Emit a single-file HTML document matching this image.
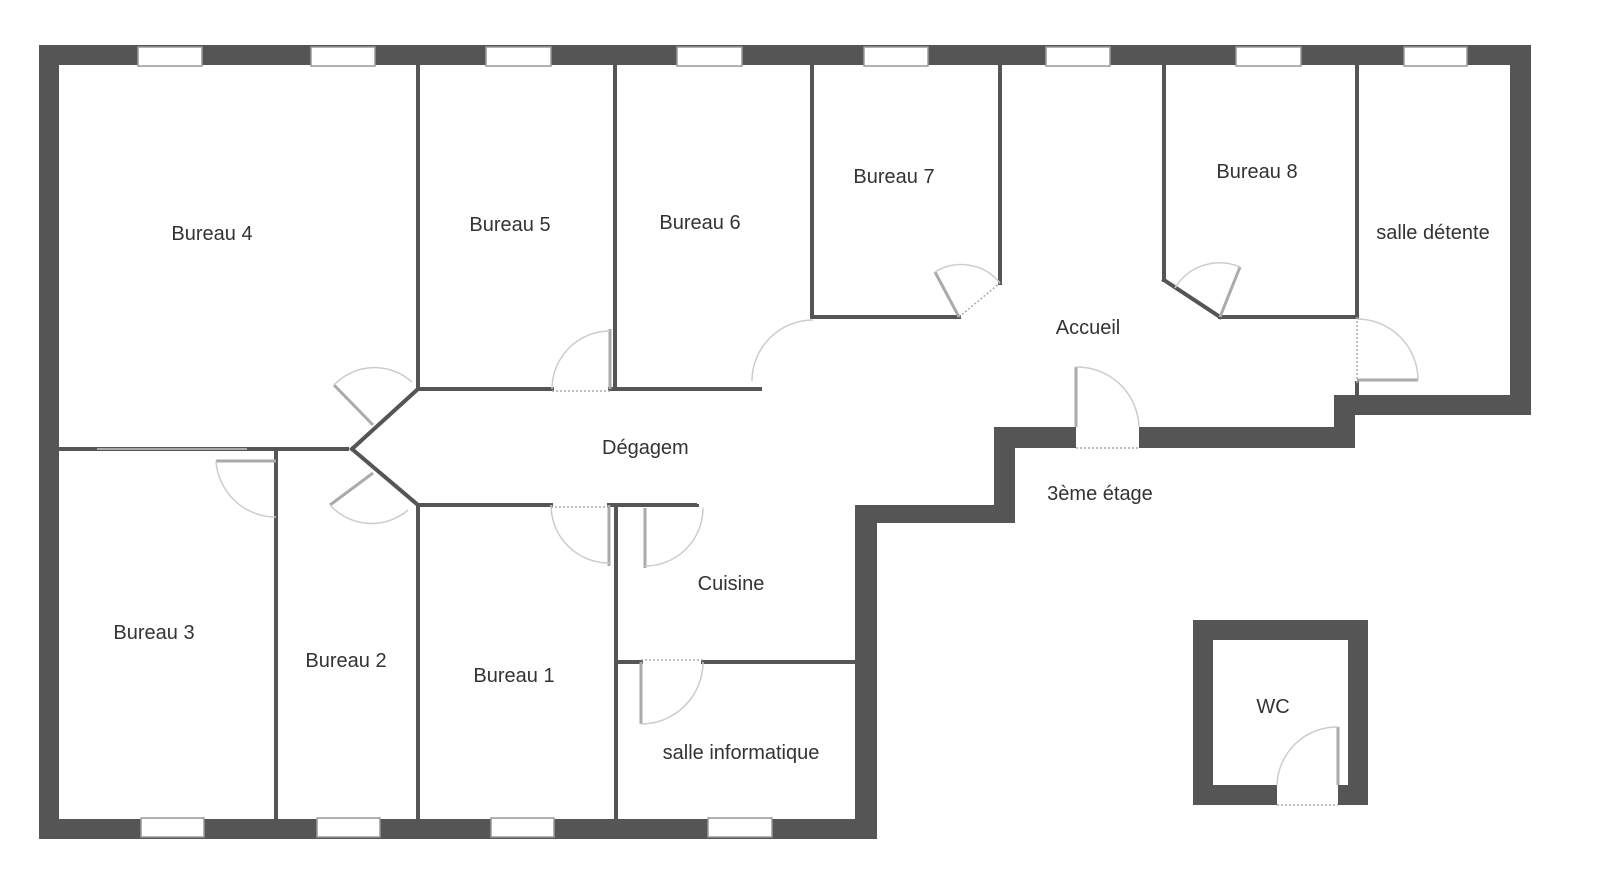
<!DOCTYPE html>
<html><head><meta charset="utf-8"><style>
html,body{margin:0;padding:0;background:#fff;}
svg{display:block;}
text{font-family:"Liberation Sans",sans-serif;font-size:20px;fill:#333;}
</style></head><body>
<svg width="1600" height="876" viewBox="0 0 1600 876" xmlns="http://www.w3.org/2000/svg">
<rect width="1600" height="876" fill="#fff"/>
<g fill="#555">
<rect x="39" y="45" width="1492" height="20"/>
<rect x="39" y="45" width="20" height="794"/>
<rect x="1510" y="45" width="21" height="370"/>
<rect x="1334" y="395" width="197" height="20"/>
<rect x="1334" y="395" width="21" height="53"/>
<rect x="994" y="427" width="361" height="21"/>
<rect x="994" y="427" width="21" height="96"/>
<rect x="855" y="505" width="160" height="18"/>
<rect x="855" y="505" width="22" height="334"/>
<rect x="39" y="819" width="838" height="20"/>
<rect x="1193" y="620" width="175" height="20"/>
<rect x="1193" y="620" width="20" height="185"/>
<rect x="1348" y="620" width="20" height="185"/>
<rect x="1193" y="785" width="175" height="20"/>
</g>
<g fill="#fff" stroke="#999" stroke-width="1.5">
<rect x="138" y="47" width="64" height="19"/><rect x="311" y="47" width="64" height="19"/>
<rect x="486" y="47" width="65" height="19"/><rect x="677" y="47" width="65" height="19"/>
<rect x="864" y="47" width="64" height="19"/><rect x="1046" y="47" width="64" height="19"/>
<rect x="1236" y="47" width="65" height="19"/><rect x="1404" y="47" width="63" height="19"/>
<rect x="141" y="818" width="63" height="19"/><rect x="317" y="818" width="63" height="19"/>
<rect x="491" y="818" width="63" height="19"/><rect x="708" y="818" width="64" height="19"/>
</g>
<rect x="1076" y="426" width="63" height="23" fill="#fff"/>
<rect x="1277" y="784" width="61" height="22" fill="#fff"/>
<g stroke="#aaa" stroke-width="1.5" stroke-dasharray="2,2">
<line x1="1076" y1="448" x2="1139" y2="448"/>
<line x1="1277" y1="805" x2="1338" y2="805"/>
</g>
<g stroke="#555" stroke-width="4" fill="none" stroke-linecap="square">
<line x1="418" y1="65" x2="418" y2="389"/>
<line x1="615" y1="65" x2="615" y2="389"/>
<line x1="418" y1="389" x2="552" y2="389"/>
<line x1="610" y1="389" x2="760" y2="389"/>
<line x1="812" y1="65" x2="812" y2="317"/>
<line x1="812" y1="317" x2="959" y2="317"/>
<line x1="1000" y1="283" x2="1000" y2="65"/>
<line x1="1164" y1="65" x2="1164" y2="280"/>
<line x1="1164" y1="280" x2="1220" y2="317"/>
<line x1="1220" y1="317" x2="1357" y2="317"/>
<line x1="1357" y1="65" x2="1357" y2="317"/>
<line x1="1357" y1="383" x2="1357" y2="395"/>
<line x1="59" y1="449" x2="347" y2="449"/>
<line x1="352" y1="449" x2="418" y2="389"/>
<line x1="352" y1="449" x2="418" y2="505"/>
<line x1="276" y1="449" x2="276" y2="819"/>
<line x1="418" y1="505" x2="418" y2="819"/>
<line x1="418" y1="505" x2="551" y2="505"/>
<line x1="609" y1="505" x2="697" y2="505"/>
<line x1="616" y1="505" x2="616" y2="819"/>
<line x1="616" y1="662" x2="641" y2="662"/>
<line x1="703" y1="662" x2="855" y2="662"/>
</g>
<g stroke="#aaa" stroke-width="3" fill="none">
<line x1="610" y1="389" x2="610" y2="329"/>
<line x1="609" y1="505" x2="609" y2="566"/>
<line x1="645" y1="508" x2="645" y2="568"/>
<line x1="641" y1="662" x2="641" y2="724"/>
<line x1="216" y1="461" x2="276" y2="461"/>
<line x1="97" y1="449" x2="247" y2="449" stroke-width="2"/>
<line x1="373" y1="425" x2="334" y2="385"/>
<line x1="373" y1="473" x2="330" y2="505"/>
<line x1="959" y1="317" x2="935" y2="272"/>
<line x1="1220" y1="317" x2="1240" y2="267"/>
<line x1="1357" y1="380" x2="1418" y2="380"/>
<line x1="1076" y1="427" x2="1076" y2="367"/>
<line x1="1338" y1="785" x2="1338" y2="727"/>
</g>
<g stroke="#ccc" stroke-width="1.5" fill="none">
<path d="M552 389 A58 58 0 0 1 610 331"/>
<path d="M752 381 A61 61 0 0 1 813 320"/>
<path d="M551 505 A58 58 0 0 0 609 563"/>
<path d="M703 508 A58 58 0 0 1 645 566"/>
<path d="M703 662 A62 62 0 0 1 641 724"/>
<path d="M216 461 A60 60 0 0 0 276 517"/>
<path d="M334 385 A56 56 0 0 1 412 382"/>
<path d="M330 505 A56 56 0 0 0 408 510"/>
<path d="M935 272 A50 50 0 0 1 1000 283"/>
<path d="M1240 267 A52 52 0 0 0 1175 288"/>
<path d="M1357 319 A61 61 0 0 1 1418 380"/>
<path d="M1076 367 A62 62 0 0 1 1139 427"/>
<path d="M1338 727 A60 60 0 0 0 1277 785"/>
</g>
<g stroke="#aaa" stroke-width="1.5" stroke-dasharray="2,2">
<line x1="552" y1="391" x2="610" y2="391"/>
<line x1="551" y1="507" x2="609" y2="507"/>
<line x1="641" y1="660" x2="703" y2="660"/>
<line x1="959" y1="317" x2="1000" y2="283"/>
<line x1="1357" y1="317" x2="1357" y2="383"/>
</g>
<rect x="760" y="391" width="95" height="111" fill="#fff"/>
<rect x="697" y="430" width="70" height="74" fill="#fff"/>
<text x="212" y="240" text-anchor="middle">Bureau 4</text>
<text x="510" y="231" text-anchor="middle">Bureau 5</text>
<text x="700" y="229" text-anchor="middle">Bureau 6</text>
<text x="894" y="183" text-anchor="middle">Bureau 7</text>
<text x="1257" y="178" text-anchor="middle">Bureau 8</text>
<text x="1433" y="239" text-anchor="middle">salle détente</text>
<text x="1088" y="334" text-anchor="middle">Accueil</text>
<svg x="600" y="420" width="88" height="40"><text x="2" y="34">Dégagement</text></svg>
<text x="1100" y="500" text-anchor="middle">3ème étage</text>
<text x="731" y="590" text-anchor="middle">Cuisine</text>
<text x="154" y="639" text-anchor="middle">Bureau 3</text>
<text x="346" y="667" text-anchor="middle">Bureau 2</text>
<text x="514" y="682" text-anchor="middle">Bureau 1</text>
<text x="741" y="759" text-anchor="middle">salle informatique</text>
<text x="1273" y="713" text-anchor="middle">WC</text>
</svg>
</body></html>
